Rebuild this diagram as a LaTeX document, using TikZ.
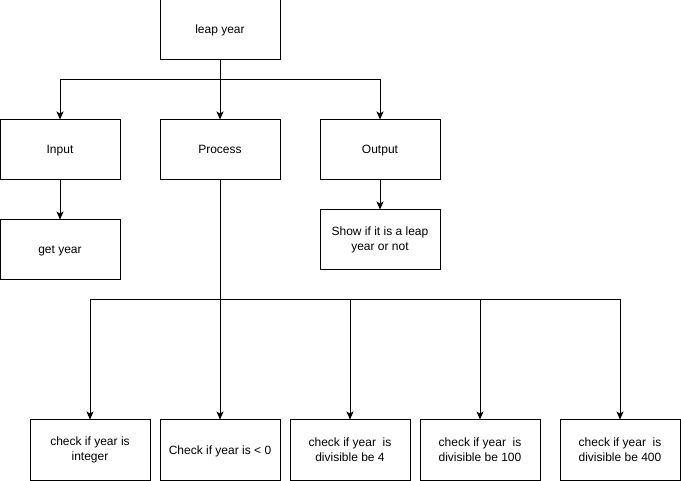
\documentclass[tikz,border=0pt]{standalone}
\usepackage{fontspec}
\setmainfont{Liberation Sans}
\usetikzlibrary{arrows.meta}
\begin{document}
\begin{tikzpicture}[x=1pt,y=-1pt,
  box/.style={draw,line width=1pt,minimum width=120pt,minimum height=60pt,inner sep=0pt,align=center,font=\fontsize{12}{15}\selectfont},
  one/.style={box,text height=10pt,text depth=2pt},
  conn/.style={line width=1pt},
  arr/.style={conn,-{Stealth[length=8pt,width=7pt,inset=2pt]}}]
\useasboundingbox (0,0) rectangle (681,481);
\node[one] (top) at (220,30) {leap year};
\node[one] (in) at (60,150) {Input};
\node[one] (proc) at (220,150) {Process};
\node[one] (out) at (380,150) {Output};
\node[one] (get) at (60,250) {get year};
\node[box] (show) at (380,240) {Show if it is a leap\\year or not};
\node[box] (b1) at (90,450) {check if year is\\integer};
\node[one] (b2) at (220,450) {Check if year is {\textless} 0};
\node[box] (b3) at (350,450) {check if year \ is\\divisible be 4};
\node[box] (b4) at (480,450) {check if year \ is\\divisible be 100};
\node[box] (b5) at (620,450) {check if year \ is\\divisible be 400};
\coordinate (j1) at (220,80);
\coordinate (j2) at (220,300);
\draw[arr] (top) -- (proc);
\draw[arr] (j1) -| (in);
\draw[arr] (j1) -| (out);
\draw[arr] (in) -- (get);
\draw[arr] (out) -- (show);
\draw[arr] (proc) -- (b2);
\draw[arr] (j2) -| (b1);
\draw[arr] (j2) -| (b3);
\draw[arr] (j2) -| (b4);
\draw[arr] (j2) -| (b5);
\end{tikzpicture}
\end{document}
